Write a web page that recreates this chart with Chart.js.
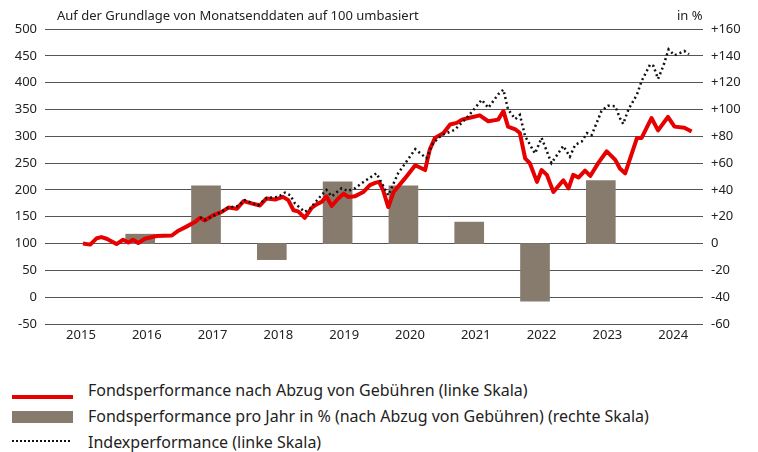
<!DOCTYPE html>
<html>
<head>
<meta charset="utf-8">
<script src="https://cdn.jsdelivr.net/npm/chart.js@4.4.1/dist/chart.umd.min.js"></script>
<style>
  body { margin: 0; background: #fff; font-family: "Noto Sans", sans-serif; color: #222; }
  #wrap { position: relative; width: 758px; height: 452px; }
  #chartBox { position: absolute; left: 0; top: 0; width: 758px; height: 344px; }
  .note { position: absolute; top: 7px; font-size: 13px; line-height: 16px; }
  .legend { position: absolute; left: 0; top: 378px; }
  .row { position: absolute; left: 0; width: 740px; height: 22px; }
  .row span { position: absolute; left: 88px; top: 0; font-size: 16px; line-height: 22px; white-space: nowrap; }
  .sw { position: absolute; left: 12px; width: 61px; }
</style>
</head>
<body>
<div id="wrap">
  <div id="chartBox"><canvas id="chart"></canvas></div>
  <div class="note" style="left:57px">Auf der Grundlage von Monatsenddaten auf 100 umbasiert</div>
  <div class="note" style="left:677px">in %</div>
  <div class="legend">
    <div class="row" style="top:1px"><div class="sw" style="top:16px;height:4px;background:#e60000"></div><span>Fondsperformance nach Abzug von Gebühren (linke Skala)</span></div>
    <div class="row" style="top:27px"><div class="sw" style="top:6px;height:12px;background:#877b6e"></div><span>Fondsperformance pro Jahr in % (nach Abzug von Gebühren) (rechte Skala)</span></div>
    <div class="row" style="top:53px"><div class="sw" style="top:9px;height:0;border-top:2.5px dotted #111;width:58px"></div><span>Indexperformance (linke Skala)</span></div>
  </div>
</div>
<script>
  // Jahresachse
  const years = [2015, 2016, 2017, 2018, 2019, 2020, 2021, 2022, 2023, 2024];

  // Fondsperformance nach Gebühren (Monatsenddaten)
  const fundDates = [2015.03, 2015.14, 2015.24, 2015.31, 2015.39, 2015.54, 2015.64, 2015.72, 2015.79, 2015.87,
    2015.97, 2016.15, 2016.38, 2016.48, 2016.61, 2016.73, 2016.81, 2016.88, 2017.01, 2017.14,
    2017.24, 2017.37, 2017.47, 2017.59, 2017.72, 2017.82, 2017.95, 2018.07, 2018.15, 2018.23,
    2018.30, 2018.40, 2018.51, 2018.58, 2018.66, 2018.73, 2018.81, 2018.91, 2018.99, 2019.06,
    2019.16, 2019.29, 2019.39, 2019.47, 2019.53, 2019.59, 2019.67, 2019.75, 2019.92, 2020.08,
    2020.23, 2020.30, 2020.38, 2020.51, 2020.61, 2020.71, 2020.79, 2020.89, 2021.06, 2021.19,
    2021.34, 2021.42, 2021.49, 2021.60, 2021.67, 2021.75, 2021.82, 2021.93, 2022.00, 2022.08,
    2022.18, 2022.33, 2022.41, 2022.48, 2022.56, 2022.66, 2022.74, 2022.86, 2022.99, 2023.12,
    2023.19, 2023.27, 2023.45, 2023.52, 2023.67, 2023.77, 2023.92, 2024.02, 2024.17, 2024.28];
  const fundValues = [100, 98, 110, 112, 109, 99, 107, 102, 107, 101,
    109, 114, 115, 124, 132, 140, 148, 143, 153, 159,
    167, 165, 179, 175, 171, 184, 182, 187, 181, 162,
    160, 148, 167, 173, 178, 188, 170, 184, 193, 187,
    188, 196, 209, 213, 215, 200, 168, 196, 221, 246,
    237, 275, 297, 306, 322, 325, 331, 334, 339, 328,
    331, 347, 318, 313, 306, 259, 250, 215, 237, 228,
    196, 218, 203, 228, 223, 236, 226, 250, 272, 256,
    240, 231, 297, 297, 334, 311, 336, 318, 316, 309];

  // Indexperformance (vorher deckungsgleich unter der roten Linie)
  const indexDates = [2016.81, 2016.88, 2017.04, 2017.24,
    2017.39, 2017.49, 2017.69, 2017.82, 2018.00, 2018.10, 2018.18, 2018.25, 2018.40, 2018.48,
    2018.61, 2018.73, 2018.81, 2018.96, 2019.06, 2019.16, 2019.32, 2019.49, 2019.67, 2019.82,
    2020.08, 2020.25, 2020.35, 2020.48, 2020.68, 2020.89, 2021.09, 2021.19, 2021.34, 2021.42,
    2021.49, 2021.60, 2021.67, 2021.75, 2021.90, 2022.00, 2022.15, 2022.33, 2022.43, 2022.51,
    2022.61, 2022.69, 2022.76, 2022.91, 2023.01, 2023.12, 2023.19, 2023.24, 2023.32, 2023.45,
    2023.52, 2023.65, 2023.70, 2023.77, 2023.85, 2023.93, 2024.02, 2024.10, 2024.17, 2024.24];
  const indexValues = [149, 144, 153, 167,
    170, 181, 171, 185, 187, 195, 190, 175, 159, 165,
    184, 200, 188, 203, 198, 203, 217, 231, 190, 231,
    276, 259, 287, 302, 312, 338, 368, 353, 378, 387,
    350, 332, 340, 300, 268, 297, 250, 282, 262, 284,
    290, 306, 302, 347, 357, 356, 334, 323, 350, 378,
    403, 434, 431, 407, 431, 462, 451, 455, 459, 453];

  // Jahresperformance in % (rechte Skala)
  const barYears = [2016, 2017, 2018, 2019, 2020, 2021, 2022, 2023];
  const barValues = [7, 43, -12, 46, 43, 16, -43, 47];

  const BAR_SHIFT = 0.1; // Balken sitzen leicht links vom Jahreslabel
  const FONT = '"Noto Sans", sans-serif';

  const toPoints = (xs, ys) => xs.map((x, i) => ({ x: x, y: ys[i] }));

  new Chart(document.getElementById('chart'), {
    data: {
      datasets: [
        {
          type: 'line',
          label: 'Indexperformance (linke Skala)',
          data: toPoints(indexDates, indexValues),
          yAxisID: 'yLeft',
          borderColor: '#111',
          borderWidth: 2.5,
          borderDash: [2, 3],
          pointRadius: 0,
          tension: 0,
          order: 0
        },
        {
          type: 'line',
          label: 'Fondsperformance nach Abzug von Gebühren (linke Skala)',
          data: toPoints(fundDates, fundValues),
          yAxisID: 'yLeft',
          borderColor: '#e60000',
          borderWidth: 4,
          borderJoinStyle: 'round',
          pointRadius: 0,
          tension: 0,
          order: 1
        },
        {
          type: 'bar',
          label: 'Fondsperformance pro Jahr in % (nach Abzug von Gebühren) (rechte Skala)',
          data: barYears.map((y, i) => ({ x: y - BAR_SHIFT, y: barValues[i] })),
          yAxisID: 'yRight',
          backgroundColor: '#877b6e',
          barThickness: 29,
          order: 2
        }
      ]
    },
    options: {
      responsive: true,
      maintainAspectRatio: false,
      animation: false,
      layout: { padding: { top: 29, left: 0, right: 0, bottom: 0 } },
      plugins: { legend: { display: false }, tooltip: { enabled: false } },
      scales: {
        x: {
          type: 'linear',
          offset: false,
          min: 2014.453,
          max: 2024.453,
          grid: { display: false, offset: false, drawTicks: false },
          border: { display: false },
          afterBuildTicks: (s) => { s.ticks = years.map(v => ({ value: v })); },
          afterFit: (s) => { s.height = 20; },
          ticks: {
            padding: 3,
            color: '#222',
            font: { family: FONT, size: 13 },
            callback: (v) => String(v),
            maxRotation: 0
          }
        },
        yLeft: {
          position: 'left',
          min: -50,
          max: 500,
          grid: { color: '#555', lineWidth: 1, drawTicks: false },
          border: { display: false },
          afterFit: (s) => { s.width = 45; },
          ticks: {
            stepSize: 50,
            padding: 8,
            color: '#222',
            font: { family: FONT, size: 13 }
          }
        },
        yRight: {
          position: 'right',
          min: -60,
          max: 160,
          grid: { display: false, drawTicks: false },
          border: { display: false },
          afterFit: (s) => { s.width = 55; },
          ticks: {
            stepSize: 20,
            padding: 8,
            color: '#222',
            font: { family: FONT, size: 13 },
            callback: (v) => (v > 0 ? '+' + v : String(v))
          }
        }
      }
    }
  });
</script>
</body>
</html>
